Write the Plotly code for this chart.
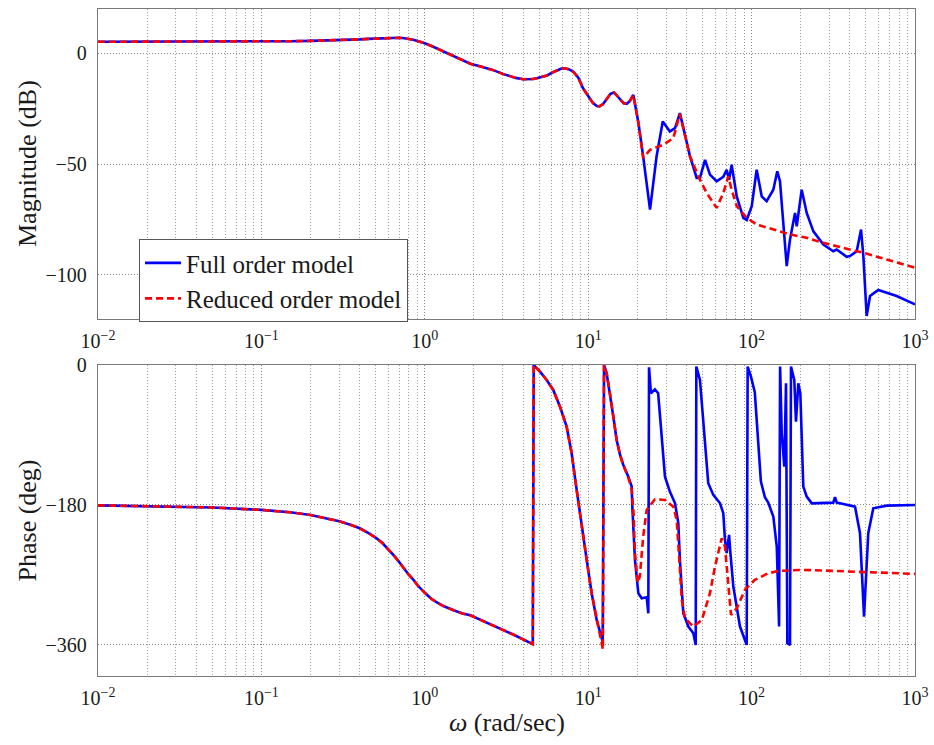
import plotly.graph_objects as go

# ---- frequency grid (rad/s) and responses ----
# Magnitude below ~19 rad/s, identical for both models
w_mag_low = [0.01, 0.03, 0.06, 0.1, 0.15, 0.2, 0.25, 0.3, 0.35, 0.4, 0.45, 0.5, 0.55, 0.6,
             0.65, 0.7, 0.75, 0.8, 0.85, 0.9, 0.95, 1.0, 1.1, 1.2, 1.35, 1.5, 1.7, 1.9, 2.2,
             2.6, 3.0, 3.3, 3.6, 4.0, 4.3, 4.6, 4.9, 5.3, 5.6, 6.0, 6.4, 6.8, 7.2, 7.6, 8.1,
             8.7, 9.3, 10.0, 10.7, 11.3, 11.7, 12.3, 13.0, 13.7, 14.4, 15.0, 15.7, 16.5,
             17.2, 18.0, 18.9]
mag_low = [5.2, 5.2, 5.25, 5.3, 5.45, 5.6, 5.75, 5.9, 6.1, 6.3, 6.5, 6.7, 6.85, 7.0, 7.05,
           7.0, 6.8, 6.5, 6.1, 5.6, 5.1, 4.5, 3.3, 2.0, 0.2, -1.5, -3.2, -4.7, -6.0, -7.5,
           -9.3, -10.3, -11.1, -11.7, -11.8, -11.6, -11.2, -10.5, -10.0, -8.8, -7.8, -7.0,
           -6.8, -7.2, -8.3, -11.0, -15.8, -19.5, -22.5, -23.8, -24.0, -23.0, -20.5, -18.3,
           -17.7, -19.3, -21.0, -22.6, -22.8, -21.5, -18.8]

# Magnitude above ~19 rad/s, full order model
w_mag_full_hi = [20.3, 21.7, 23.9, 26.2, 28.6, 31.6, 34.0, 36.4, 39.1, 42.0, 46.1, 48.3,
                 51.9, 55.6, 61.1, 67.1, 70.4, 72.8, 75.5, 81.1, 89.0, 93.3, 100.2, 107.4,
                 115.3, 123.6, 135.8, 143.6, 149.2, 155, 164, 171.8, 184.4, 188.9, 202.6,
                 217.4, 238.8, 274.9, 316, 331.6, 382, 400, 440, 467.5, 483, 506, 530.6,
                 596, 772, 1000]
mag_full_hi = [-31.5, -46.6, -70.6, -46.6, -30.8, -35.3, -33.8, -27.0, -37.6, -46.6, -56.3,
               -56.3, -48.1, -54.8, -57.8, -55.8, -52.6, -57.1, -50.3, -64.6, -74.3, -75.3,
               -69.0, -52.6, -64.6, -66.8, -61.6, -53.3, -57.8, -73.6, -96.1, -84.1, -72.1,
               -78.1, -61.6, -72.1, -80.4, -86.4, -89.4, -88.6, -91.9, -91.6, -89.4, -79.6,
               -91.6, -118.6, -109.6, -106.9, -109.6, -113.4]

# Magnitude above ~19 rad/s, reduced order model
w_mag_red_hi = [20.3, 21.7, 23.9, 28.8, 33.2, 36.4, 42.0, 48.3, 53.1, 61.1, 67.1, 72.0,
                75.5, 81.1, 93.3, 107.4, 135.8, 171.8, 217.4, 274.9, 382, 483, 1000]
mag_red_hi = [-31.5, -47.3, -43.6, -41.3, -38.3, -27.3, -46.6, -57.1, -63.1, -69.8, -63.1,
              -55.6, -61.6, -69.0, -74.3, -77.3, -79.6, -81.8, -83.3, -85.6, -88.3, -90.1,
              -96.8]

# Phase below ~12 rad/s (wrapped to [-360, 0]), identical for both models
w_ph_low = [0.01, 0.03, 0.05, 0.1, 0.15, 0.2, 0.25, 0.3, 0.35, 0.4, 0.45, 0.5, 0.55, 0.6,
            0.65, 0.7, 0.75, 0.8, 0.85, 0.9, 1.0, 1.1, 1.2, 1.3, 1.5, 1.7, 1.9, 2.5, 3.5,
            4.58, 4.64, 5.07, 5.57, 6.11, 6.72, 7.38, 7.92, 8.5, 9.12, 9.79, 10.5, 11.27]
ph_low = [-180.5, -182, -183.2, -186.4, -189.5, -193, -197, -201, -205.5, -210, -216, -222,
          -229, -237, -245.5, -254, -263, -270, -276, -283, -293, -301, -306, -310, -315.5,
          -319.5, -322, -333, -347, -359, 0, -8.6, -19.3, -32.1, -53.6, -79.3, -113.6,
          -160.7, -207.9, -250.7, -293.5, -327.9]

# Phase above ~12 rad/s, full order model
w_ph_full_hi = [12.27, 12.5, 12.97, 13.6, 14.25, 14.93, 15.67, 16.4, 17.6, 18.46, 18.62,
                19.33, 20.27, 21.25, 22.8, 23.33, 23.57, 24.2, 25.6, 26.8, 28.2, 29.5, 31.6,
                34.0, 35.6, 36.4, 38.2, 41.0, 44.0, 45.5, 45.9, 48.3, 51.9, 54.3, 58.3, 64.1,
                67.1, 68.7, 70.4, 72.8, 74.2, 77.3, 84.9, 91.1, 93.3, 94.6, 99.1, 104.6,
                109.2, 114.0, 120.6, 126.4, 135.8, 142.6, 147.3, 149.4, 152.9, 158.6, 162.4,
                165.5, 171.8, 174.2, 182.5, 186.9, 193.1, 198.7, 207.2, 217.4, 233.4, 262.3,
                316, 323.9, 332, 364, 429.5, 460.6, 487.5, 517.6, 555.5, 671, 1000]
ph_full_hi = [-356, 0, -10.7, -36.4, -66.4, -96.4, -115.7, -128.6, -143.6, -156.4, -182,
              -250.7, -293.5, -300, -298.7, -319.3, -3, -36.4, -31.3, -36.4, -87.8, -143.6,
              -162.9, -177.9, -203.5, -250.7, -319.3, -336.4, -345, -360, -2, -19.3, -100.7,
              -152.1, -167.1, -177.9, -190.7, -225, -242, -218.6, -242, -285, -336.4, -355,
              -360, -2, -15, -35, -100, -150, -170, -177, -195, -233.6, -336.4, -2, -87.8,
              -130.7, -23.6, -357.8, -360, -2, -19.3, -72.9, -23.6, -36.4, -156.4, -169.3,
              -177.9, -177.9, -177, -170, -177, -178.7, -182.2, -216.4, -323.6, -216.4,
              -184.3, -180.9, -180]

# Phase above ~12 rad/s, reduced order model
w_ph_red_hi = [12.3, 12.5, 12.97, 13.6, 14.25, 14.93, 15.67, 16.4, 17.6, 18.46, 18.95,
               19.33, 20.1, 20.7, 21.7, 22.8, 25.6, 29.5, 33.2, 34.8, 35.9, 37.4, 39.1,
               44.0, 49.6, 55.6, 59.7, 65.6, 68.7, 72.0, 74.8, 81.1, 91.1, 104.6, 126, 145,
               196, 244, 460, 1000]
ph_red_hi = [-366, 0, -10.7, -36.4, -66.4, -96.4, -115.7, -128.6, -145, -160, -190.7,
             -242, -280, -272, -220.8, -186.4, -172.7, -173.6, -182.2, -199.3, -242, -302,
             -325.7, -336.4, -327.9, -293.5, -259.3, -222.9, -233.6, -285, -321.4, -312.9,
             -289, -276.4, -268, -265, -263.6, -264, -266, -268.7]

# ---- axis ticks ----
x_ticks = [0.01, 0.1, 1, 10, 100, 1000]
x_tick_text = ["10<sup>\u22122</sup>", "10<sup>\u22121</sup>", "10<sup>0</sup>",
               "10<sup>1</sup>", "10<sup>2</sup>", "10<sup>3</sup>"]
mag_ticks = [0, -50, -100]
mag_tick_text = ["0", "\u221250", "\u2212100"]
ph_ticks = [0, -180, -360]
ph_tick_text = ["0", "\u2212180", "\u2212360"]
x_minor = [m * 10.0 ** e for e in range(-2, 3) for m in range(2, 10)]

BLUE = "#0000ff"
RED = "#ff0000"
FONT = "Liberation Serif, Times New Roman, serif"
FULL_LINE = dict(color=BLUE, width=2.6)
RED_LINE = dict(color=RED, width=2.6, dash="7px,4px")

fig = go.Figure()
fig.add_trace(go.Scatter(x=w_mag_low + w_mag_full_hi, y=mag_low + mag_full_hi, mode="lines",
                         name="Full order model", line=FULL_LINE, xaxis="x", yaxis="y"))
fig.add_trace(go.Scatter(x=w_mag_low + w_mag_red_hi, y=mag_low + mag_red_hi, mode="lines",
                         name="Reduced order model", line=RED_LINE, xaxis="x", yaxis="y"))
fig.add_trace(go.Scatter(x=w_ph_low + w_ph_full_hi, y=ph_low + ph_full_hi, mode="lines",
                         showlegend=False, line=FULL_LINE, xaxis="x2", yaxis="y2"))
fig.add_trace(go.Scatter(x=w_ph_low + w_ph_red_hi, y=ph_low + ph_red_hi, mode="lines",
                         showlegend=False, line=RED_LINE, xaxis="x2", yaxis="y2"))

frame = dict(showline=True, mirror=True, linecolor="#7a7a7a", linewidth=1.4,
             zeroline=False, ticks="", showgrid=True, gridcolor="#858585",
             gridwidth=1, griddash="1px,2px", automargin=False)
xcommon = dict(frame, type="log", range=[-2, 3], tickmode="array", tickvals=x_ticks,
               ticktext=x_tick_text, tickfont=dict(size=20), ticklabelstandoff=4,
               minor=dict(tickmode="array", tickvals=x_minor, showgrid=True,
                          gridcolor="#a0a0a0", gridwidth=1, griddash="1px,2px", ticks=""))

top_lo = 0.5352
bot_hi = 0.4663

fig.update_layout(
    width=934, height=745,
    margin=dict(l=98, r=19, t=9, b=69, autoexpand=False),
    paper_bgcolor="white", plot_bgcolor="white",
    font=dict(family=FONT, color="#1a1a1a", size=20),
    xaxis=dict(xcommon, domain=[0, 1], anchor="y"),
    xaxis2=dict(xcommon, domain=[0, 1], anchor="y2"),
    yaxis=dict(frame, domain=[top_lo, 1], range=[-120, 20], tickmode="array",
               tickvals=mag_ticks, ticktext=mag_tick_text, tickfont=dict(size=20),
               ticklabelstandoff=6, anchor="x"),
    yaxis2=dict(frame, domain=[0, bot_hi], range=[-400, 0], tickmode="array",
                tickvals=ph_ticks, ticktext=ph_tick_text, tickfont=dict(size=20),
                ticklabelstandoff=6, anchor="x2"),
    legend=dict(x=0.0502, y=0.655, xanchor="left", yanchor="top",
                bgcolor="white", bordercolor="#555555", borderwidth=1,
                font=dict(size=25, family=FONT), itemwidth=36, tracegroupgap=0),
    showlegend=True,
    annotations=[
        dict(text="Magnitude (dB)", x=-0.0869, y=(top_lo + 1) / 2, xref="paper",
             yref="paper", textangle=-90, showarrow=False, font=dict(size=26),
             xanchor="center", yanchor="middle"),
        dict(text="Phase (deg)", x=-0.0869, y=bot_hi / 2, xref="paper", yref="paper",
             textangle=-90, showarrow=False, font=dict(size=26),
             xanchor="center", yanchor="middle"),
        dict(text="<i>\u03c9</i> (rad/sec)", x=0.5, y=-0.069, xref="paper", yref="paper",
             showarrow=False, font=dict(size=26), xanchor="center", yanchor="middle"),
    ],
)

fig.write_html("out.html")
